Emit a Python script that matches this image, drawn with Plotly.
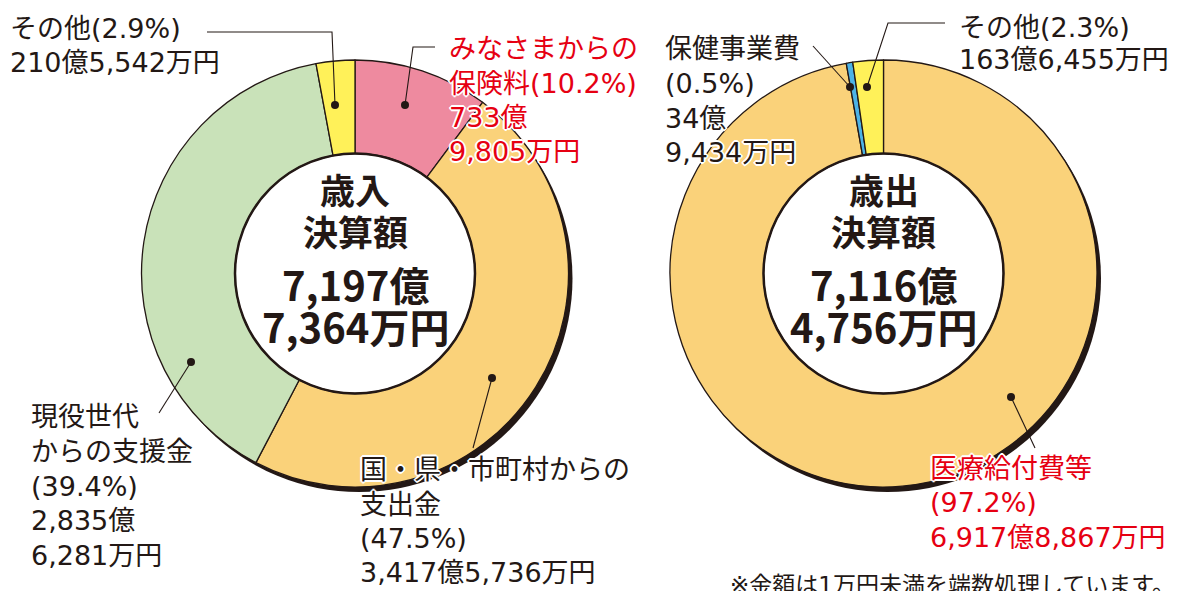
import plotly.graph_objects as go

W, H = 1181, 591

# ---------------- data ----------------
rev_title = ["歳入", "決算額"]
rev_labels = ["みなさまからの保険料", "国・県・市町村からの支出金", "現役世代からの支援金", "その他"]
rev_values = [7339805, 34175736, 28356281, 2105542]   # 万円
rev_pct = [10.2, 47.5, 39.4, 2.9]
rev_total = 71977364

exp_title = ["歳出", "決算額"]
exp_labels = ["医療給付費等", "保健事業費", "その他"]
exp_values = [69178867, 349434, 1636455]               # 万円
exp_pct = [97.2, 0.5, 2.3]
exp_total = 71164756

note = "※金額は1万円未満を端数処理しています。"

# ---------------- style ----------------
DARK = "#231815"
RED = "#E60012"
rev_colors = ["#EE8A9F", "#FAD27A", "#C9E2B9", "#FFF159"]
exp_colors = ["#FAD27A", "#4DB3E6", "#FFF159"]
FONT = "DejaVu Sans, Noto Sans CJK JP, sans-serif"
FONT_C = "Noto Sans CJK JP, sans-serif"
HALO = ("white 1px 1px 0px, white -1px -1px 0px, white 1px -1px 0px, white -1px 1px 0px, "
        "white 0px 2px 0px, white 2px 0px 0px, white 0px -2px 0px, white -2px 0px 0px")

R_OUT, R_IN = 213.5, 120
CENTERS = [(355, 273.5), (883.5, 273.5)]


def oku_man(v):
    oku, man = divmod(v, 10000)
    return f"{oku:,}億", f"{man:,}万円"


def px(x):
    return x / W


def py(y):
    return 1 - y / H


fig = go.Figure()

for (cx, cy), vals, cols, labs in [
    (CENTERS[0], rev_values, rev_colors, rev_labels),
    (CENTERS[1], exp_values, exp_colors, exp_labels),
]:
    fig.add_trace(go.Pie(
        labels=labs, values=vals, sort=False, direction="clockwise", rotation=0,
        hole=R_IN / R_OUT, textinfo="none", hoverinfo="label+percent",
        marker=dict(colors=cols, line=dict(color=DARK, width=1.3)),
        domain=dict(x=[px(cx - R_OUT), px(cx + R_OUT)], y=[py(cy + R_OUT), py(cy - R_OUT)]),
        showlegend=False,
    ))

shapes = []
annotations = []

# shadows, hole fill and inner rings
for cx, cy in CENTERS:
    dx, dy = 4, 5
    shapes.append(dict(type="circle", xref="paper", yref="paper", layer="below",
                       x0=px(cx - R_OUT + dx), x1=px(cx + R_OUT + dx),
                       y0=py(cy + R_OUT + dy), y1=py(cy - R_OUT + dy),
                       fillcolor=DARK, line=dict(width=0)))
    shapes.append(dict(type="circle", xref="paper", yref="paper", layer="below",
                       x0=px(cx - R_IN - 2), x1=px(cx + R_IN + 2),
                       y0=py(cy + R_IN + 2), y1=py(cy - R_IN - 2),
                       fillcolor="white", line=dict(width=0)))
    shapes.append(dict(type="circle", xref="paper", yref="paper", layer="above",
                       x0=px(cx - R_IN), x1=px(cx + R_IN),
                       y0=py(cy + R_IN), y1=py(cy - R_IN),
                       fillcolor="rgba(0,0,0,0)", line=dict(color=DARK, width=2.5)))


def text_line(x, y, s, color=DARK, size=27, bold=False, anchor="left", halo=True, family=FONT):
    annotations.append(dict(
        xref="paper", yref="paper", x=px(x), y=py(y), text=(f"<b>{s}</b>" if bold else s),
        showarrow=False, xanchor=anchor, yanchor="middle",
        font=dict(family=family, size=size, color=color, shadow=(HALO if halo else "none")),
    ))


# center titles
for (cx, cy), title, total in [(CENTERS[0], rev_title, rev_total), (CENTERS[1], exp_title, exp_total)]:
    text_line(cx, 188, title[0], size=35, bold=True, anchor="center", halo=False, family=FONT_C)
    text_line(cx, 230, title[1], size=35, bold=True, anchor="center", halo=False, family=FONT_C)
    o, m = oku_man(total)
    text_line(cx, 284, o, size=40, bold=True, anchor="center", halo=False, family=FONT_C)
    text_line(cx, 326, m, size=40, bold=True, anchor="center", halo=False, family=FONT_C)

# segment labels
o, m = oku_man(rev_values[0])
lab_pink = ["みなさまからの", f"保険料({rev_pct[0]}%)", o, m]
o, m = oku_man(rev_values[1])
lab_orange = ["国・県・市町村からの", "支出金", f"({rev_pct[1]}%)", o + m]
o, m = oku_man(rev_values[2])
lab_green = ["現役世代", "からの支援金", f"({rev_pct[2]}%)", o, m]
o, m = oku_man(rev_values[3])
lab_yel = [f"その他({rev_pct[3]}%)", o + m]
o, m = oku_man(exp_values[0])
lab_med = [f"{exp_labels[0]}", f"({exp_pct[0]}%)", o + m]
o, m = oku_man(exp_values[1])
lab_hok = [f"{exp_labels[1]}", f"({exp_pct[1]}%)", o, m]
o, m = oku_man(exp_values[2])
lab_oth = [f"その他({exp_pct[2]}%)", o + m]

label_layout = [
    (lab_yel, 8, [29, 62], DARK),
    (lab_pink, 447, [48, 83, 117, 151], RED),
    (lab_orange, 358, [469, 504, 538, 572], DARK),
    (lab_green, 29, [416, 451, 486, 520, 555], DARK),
    (lab_hok, 663, [48, 83, 118, 152], DARK),
    (lab_oth, 957, [27, 60], DARK),
    (lab_med, 928, [468, 502, 537], RED),
]
for lines, x, ys, col in label_layout:
    for s, y in zip(lines, ys):
        text_line(x, y, s, color=col)

# leader lines (pixel polylines) and dots
leaders = [
    [(207, 32), (332, 32), (335, 105)],
    [(435, 47), (413, 47), (405, 105)],
    [(492, 378), (473, 448)],
    [(191, 362), (159, 413)],
    [(850, 87), (813, 46)],
    [(867, 87), (888, 23), (945, 23)],
    [(1011, 397), (1035, 448)],
]
dots = [(335, 105), (405, 105), (492, 378), (191, 362), (850, 87), (867, 87), (1011, 397)]
for pts in leaders:
    path = "M " + " L ".join(f"{px(x)},{py(y)}" for x, y in pts)
    shapes.append(dict(type="path", xref="paper", yref="paper", path=path, layer="above",
                       line=dict(color=DARK, width=1.1)))
for x, y in dots:
    r = 4
    shapes.append(dict(type="circle", xref="paper", yref="paper", layer="above",
                       x0=px(x - r), x1=px(x + r), y0=py(y + r), y1=py(y - r),
                       fillcolor=DARK, line=dict(width=0)))

text_line(728, 585, note, size=23, halo=False)

fig.update_layout(
    width=W, height=H, margin=dict(l=0, r=0, t=0, b=0),
    paper_bgcolor="white", plot_bgcolor="white",
    shapes=shapes, annotations=annotations, showlegend=False,
)
fig.write_html("out.html", config={"displayModeBar": False})
